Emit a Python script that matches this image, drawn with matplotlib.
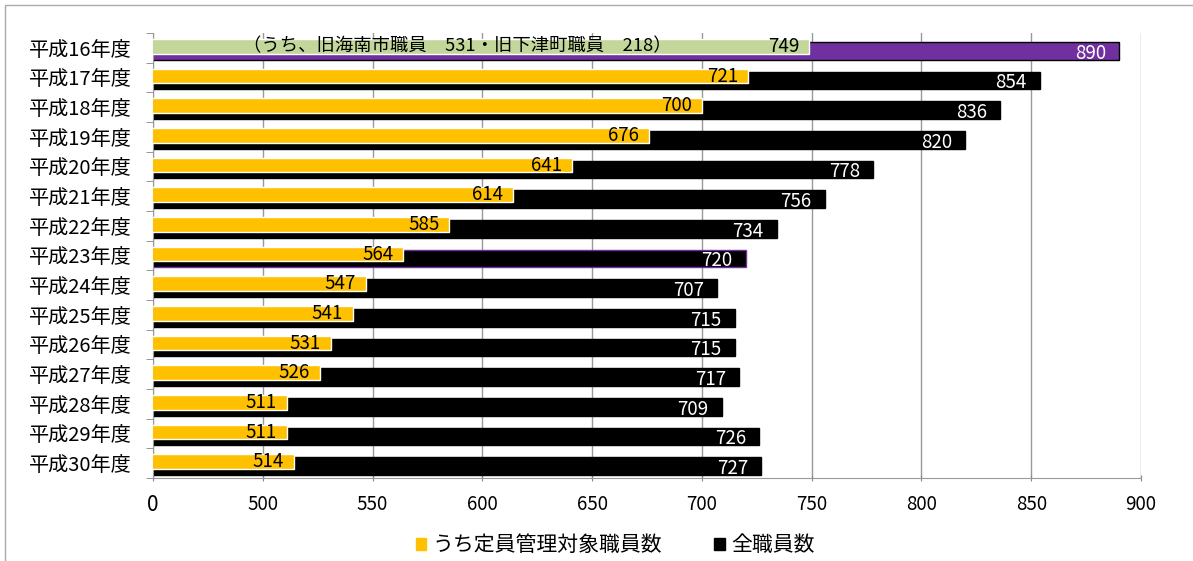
import matplotlib
matplotlib.use('Agg')
from matplotlib import pyplot as plt
from matplotlib.patches import Rectangle
import numpy as np

plt.rcParams['font.family'] = ['Noto Sans CJK JP', 'DejaVu Sans']

years = ['平成16年度', '平成17年度', '平成18年度', '平成19年度', '平成20年度',
         '平成21年度', '平成22年度', '平成23年度', '平成24年度', '平成25年度',
         '平成26年度', '平成27年度', '平成28年度', '平成29年度', '平成30年度']
managed = [749, 721, 700, 676, 641, 614, 585, 564, 547, 541, 531, 526, 511, 511, 514]
total = [890, 854, 836, 820, 778, 756, 734, 720, 707, 715, 715, 717, 709, 726, 727]
xticks = [450, 500, 550, 600, 650, 700, 750, 800, 850, 900]
xticklabels = ['0', '500', '550', '600', '650', '700', '750', '800', '850', '900']
note = '（うち、旧海南市職員　531・旧下津町職員　218）'

orange = '#ffc000'
purple = '#7030a0'
green = '#c4d79b'

fig = plt.figure(figsize=(11.93, 5.61), dpi=100)
ax = fig.add_axes([153 / 1193, 1 - 478 / 561, (1141 - 153) / 1193, (478 - 33) / 561])

y = np.arange(len(years))
tot_colors = [purple] + ['black'] * (len(years) - 1)
tot_edges = ['black'] * len(years)
tot_edges[7] = purple
man_colors = [green] + [orange] * (len(years) - 1)

ax.barh(y + 0.1, total, height=0.6, color=tot_colors, edgecolor=tot_edges, linewidth=1, zorder=2)
ax.barh(y - 0.05, managed, height=0.5, color=man_colors, edgecolor='white', linewidth=1, zorder=3)

for i in range(len(years)):
    ax.text(managed[i] - 4.5, y[i] - 0.04, str(managed[i]), ha='right', va='center',
            fontsize=13.5, color='black', zorder=4)
    ax.text(total[i] - 6, y[i] + 0.18, str(total[i]), ha='right', va='center',
            fontsize=13.5, color='white', zorder=4)

ax.text(491, -0.07, note, ha='left', va='center', fontsize=13.2, color='black', zorder=4)

ax.set_xlim(450, 900)
ax.set_ylim(len(years) - 0.5, -0.5)
ax.set_xticks(xticks)
ax.set_xticklabels(xticklabels, fontsize=13.5)
ax.get_xticklabels()[0].set_fontsize(15)
ax.set_yticks(y)
ax.set_yticklabels(years, fontsize=14.5)
ax.set_yticks(np.arange(len(years) + 1) - 0.5, minor=True)
ax.tick_params(axis='y', which='major', length=0, pad=15)
ax.tick_params(axis='y', which='minor', length=5, color='#888888')
ax.tick_params(axis='x', length=5, color='#888888', direction='inout', pad=9)
ax.grid(axis='x', color='#999999', linewidth=1, zorder=0)
ax.set_axisbelow(True)
for s in ['top', 'right']:
    ax.spines[s].set_visible(False)
for s in ['left', 'bottom']:
    ax.spines[s].set_color('#999999')

h1 = Rectangle((0, 0), 1, 1, color=orange)
h2 = Rectangle((0, 0), 1, 1, color='black')
fig.legend([h1, h2], ['うち定員管理対象職員数', '全職員数'], loc='center',
           bbox_to_anchor=(615 / 1193, 1 - 545 / 561), ncol=2, frameon=False,
           fontsize=15, handlelength=0.5, handleheight=0.5, columnspacing=2.5, handletextpad=0.3)

fig.patches.append(Rectangle((5 / 1193, -0.1), 1.2, 1 - 5 / 561 + 0.1, transform=fig.transFigure,
                             fill=False, edgecolor='#aaaaaa', linewidth=1))

fig.savefig('out.png', dpi=100)
